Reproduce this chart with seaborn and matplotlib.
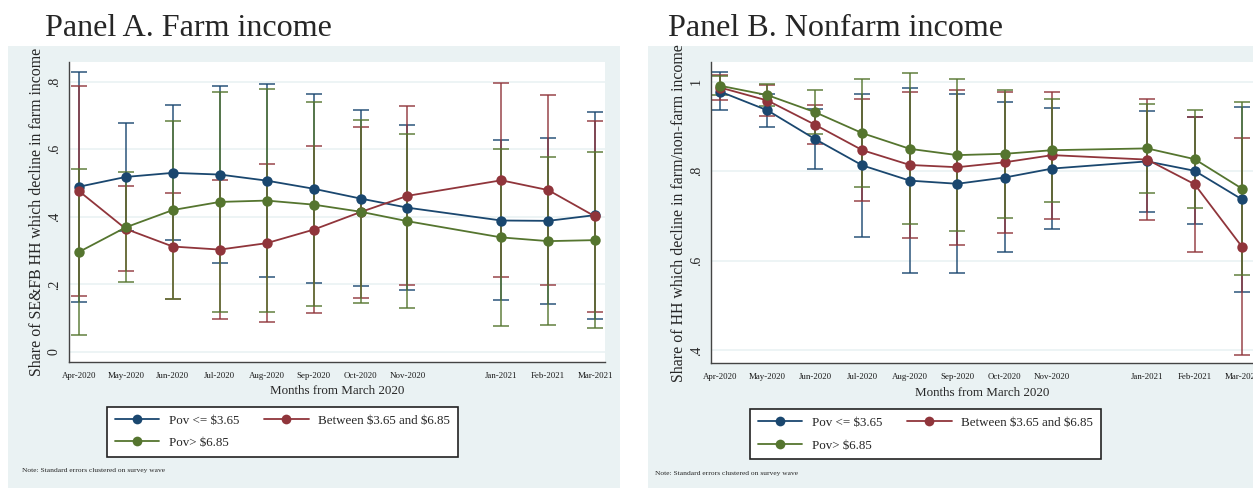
import matplotlib
matplotlib.use("Agg")
import matplotlib.pyplot as plt
import seaborn as sns
import pandas as pd
import numpy as np
from matplotlib.lines import Line2D
from matplotlib.patches import Rectangle

# ---------------- data ----------------
month_labels = ["Apr-2020", "May-2020", "Jun-2020", "Jul-2020", "Aug-2020", "Sep-2020",
                "Oct-2020", "Nov-2020", "Jan-2021", "Feb-2021", "Mar-2021"]
month_offset = [1, 2, 3, 4, 5, 6, 7, 8, 10, 11, 12]   # months from March 2020

groups = ["Pov <= \\$3.65", "Between \\$3.65 and \\$6.85", "Pov> \\$6.85"]

# Panel A: farm income
blue_A = [0.489, 0.518, 0.530, 0.525, 0.507, 0.483, 0.454, 0.427, 0.389, 0.388, 0.405]
blue_A_lo = [0.147, 0.357, 0.331, 0.263, 0.221, 0.204, 0.194, 0.182, 0.154, 0.143, 0.098]
blue_A_hi = [0.829, 0.679, 0.730, 0.787, 0.794, 0.764, 0.715, 0.671, 0.628, 0.634, 0.710]
red_A = [0.476, 0.364, 0.312, 0.303, 0.322, 0.362, 0.414, 0.462, 0.508, 0.479, 0.401]
red_A_lo = [0.166, 0.239, 0.156, 0.097, 0.088, 0.115, 0.160, 0.197, 0.222, 0.199, 0.118]
red_A_hi = [0.787, 0.491, 0.470, 0.509, 0.557, 0.608, 0.667, 0.729, 0.795, 0.760, 0.683]
green_A = [0.296, 0.369, 0.420, 0.444, 0.448, 0.436, 0.415, 0.387, 0.339, 0.328, 0.331]
green_A_lo = [0.051, 0.206, 0.157, 0.119, 0.118, 0.136, 0.146, 0.131, 0.078, 0.080, 0.071]
green_A_hi = [0.540, 0.532, 0.684, 0.770, 0.779, 0.740, 0.685, 0.644, 0.601, 0.577, 0.593]

# Panel B: nonfarm income
blue_B = [0.978, 0.936, 0.872, 0.813, 0.779, 0.772, 0.786, 0.806, 0.822, 0.801, 0.737]
blue_B_lo = [0.936, 0.899, 0.804, 0.654, 0.572, 0.572, 0.619, 0.670, 0.709, 0.682, 0.530]
blue_B_hi = [1.021, 0.973, 0.940, 0.973, 0.986, 0.972, 0.955, 0.941, 0.935, 0.921, 0.943]
red_B = [0.987, 0.958, 0.904, 0.847, 0.814, 0.809, 0.820, 0.836, 0.826, 0.771, 0.631]
red_B_lo = [0.960, 0.924, 0.861, 0.734, 0.651, 0.636, 0.663, 0.694, 0.691, 0.619, 0.390]
red_B_hi = [1.015, 0.992, 0.948, 0.961, 0.977, 0.982, 0.978, 0.977, 0.962, 0.921, 0.874]
green_B = [0.991, 0.970, 0.932, 0.885, 0.850, 0.836, 0.839, 0.847, 0.851, 0.827, 0.761]
green_B_lo = [0.970, 0.945, 0.883, 0.765, 0.682, 0.666, 0.696, 0.732, 0.752, 0.718, 0.569]
green_B_hi = [1.012, 0.995, 0.981, 1.005, 1.019, 1.006, 0.981, 0.962, 0.951, 0.936, 0.955]

yticks_A = [0, 0.2, 0.4, 0.6, 0.8]
ytick_labels_A = ["0", ".2", ".4", ".6", ".8"]
yticks_B = [0.4, 0.6, 0.8, 1.0]
ytick_labels_B = [".4", ".6", ".8", "1"]

colors = ["#1a476f", "#90353b", "#55752f"]

# ---------------- style ----------------
sns.set_style("white")
plt.rcParams["font.family"] = ["Liberation Serif", "DejaVu Serif"]

W, H = 1253, 490
fig = plt.figure(figsize=(W / 100, H / 100), dpi=100)
fig.patch.set_facecolor("white")

BG = "#eaf2f3"
# graph-region backgrounds
fig.patches.append(Rectangle((8 / W, (H - 488) / H), (620 - 8) / W, (488 - 46) / H,
                             transform=fig.transFigure, facecolor=BG, edgecolor="none", zorder=-10))
fig.patches.append(Rectangle((648 / W, (H - 488) / H), (W - 648) / W, (488 - 46) / H,
                             transform=fig.transFigure, facecolor=BG, edgecolor="none", zorder=-10))


def make_df(vals):
    rows = []
    for g, v in zip(groups, vals):
        for m, y in zip(month_offset, v):
            rows.append({"month": m, "share": y, "group": g})
    return pd.DataFrame(rows)


def draw_panel(ax, means, los, his, yticks, ylabels, ylim, xlim, ylabel):
    ax.set_zorder(1)
    ax.set_facecolor("white")
    # CI caps first
    for mean, lo, hi, c in zip(means, los, his, colors):
        m = np.array(mean)
        err = [m - np.array(lo), np.array(hi) - m]
        ax.errorbar(month_offset, m, yerr=err, fmt="none", ecolor=c,
                    elinewidth=1.2, capsize=5.5, capthick=1.2, zorder=2, alpha=0.85)
    df = make_df(means)
    sns.lineplot(data=df, x="month", y="share", hue="group", hue_order=groups,
                 palette=colors, marker="o", markersize=7.5, markeredgewidth=0,
                 linewidth=1.3, errorbar=None, legend=False, ax=ax, zorder=3)
    ax.set_xlim(*xlim)
    ax.set_ylim(*ylim)
    ax.set_xticks(month_offset)
    ax.set_xticklabels(month_labels, fontsize=6.4, color="#1a1a1a")
    ax.set_yticks(yticks)
    ax.set_yticklabels(ylabels, fontsize=10, rotation=90, va="center")
    ax.yaxis.grid(True, color=BG, linewidth=1.2)
    ax.xaxis.grid(False)
    ax.set_axisbelow(True)
    for s in ["top", "right"]:
        ax.spines[s].set_visible(False)
    for s in ["left", "bottom"]:
        ax.spines[s].set_color("#444444")
        ax.spines[s].set_linewidth(1.0)
    ax.tick_params(axis="both", direction="out", length=4, width=0.9, color="#444444")
    ax.tick_params(axis="x", pad=3)
    ax.tick_params(axis="y", pad=2)
    ax.set_xlabel("Months from March 2020", fontsize=9.4, labelpad=4)
    ax.set_ylabel(ylabel, fontsize=11.4, labelpad=2)


axA = fig.add_axes([69 / W, (H - 362) / H, (605 - 69) / W, (362 - 62) / H])
draw_panel(axA, [blue_A, red_A, green_A], [blue_A_lo, red_A_lo, green_A_lo],
           [blue_A_hi, red_A_hi, green_A_hi], yticks_A, ytick_labels_A,
           (-0.0296, 0.858), (0.787, 12.21),
           "Share of SE&FB HH which decline in farm income")

axB = fig.add_axes([711 / W, (H - 363.3) / H, (W - 711) / W, (363.3 - 62) / H])
draw_panel(axB, [blue_B, red_B, green_B], [blue_B_lo, red_B_lo, green_B_lo],
           [blue_B_hi, red_B_hi, green_B_hi], yticks_B, ytick_labels_B,
           (0.371, 1.044), (0.81, 12.23),
           "Share of HH which decline in farm/non-farm income")

# titles
fig.text(45 / W, 1 - 36 / H, "Panel A. Farm income", fontsize=23.1, ha="left", va="baseline")
fig.text(668 / W, 1 - 36 / H, "Panel B. Nonfarm income", fontsize=23.1, ha="left", va="baseline")

# legends (row-wise order: item0, item1 on row 1; item2 on row 2)
handles = [Line2D([0], [0], color=c, marker="o", markersize=7, markeredgewidth=0, linewidth=1.3)
           for c in colors]
order = [0, 2, 1]
for x0, y0, lsp in [(107, 407, 0.75), (750, 409, 0.8)]:
    leg = fig.legend([handles[i] for i in order], [groups[i] for i in order], ncol=2,
                     loc="upper left",
                     bbox_to_anchor=(x0 / W, 1 - y0 / H), bbox_transform=fig.transFigure,
                     borderaxespad=0, frameon=True, fancybox=False, fontsize=9.4,
                     framealpha=1, handlelength=3.4, handletextpad=0.75, columnspacing=1.9,
                     borderpad=0.6, labelspacing=lsp)
    leg.get_frame().set_edgecolor("#222222")
    leg.get_frame().set_linewidth(1.2)
    leg.get_frame().set_facecolor("white")
    leg.set_zorder(5)

# notes
fig.text(22 / W, 1 - 470 / H, "Note: Standard errors clustered on survey wave", fontsize=5.4,
         ha="left", va="center")
fig.text(655 / W, 1 - 473 / H, "Note: Standard errors clustered on survey wave", fontsize=5.4,
         ha="left", va="center")

fig.savefig("out.png", dpi=100)
